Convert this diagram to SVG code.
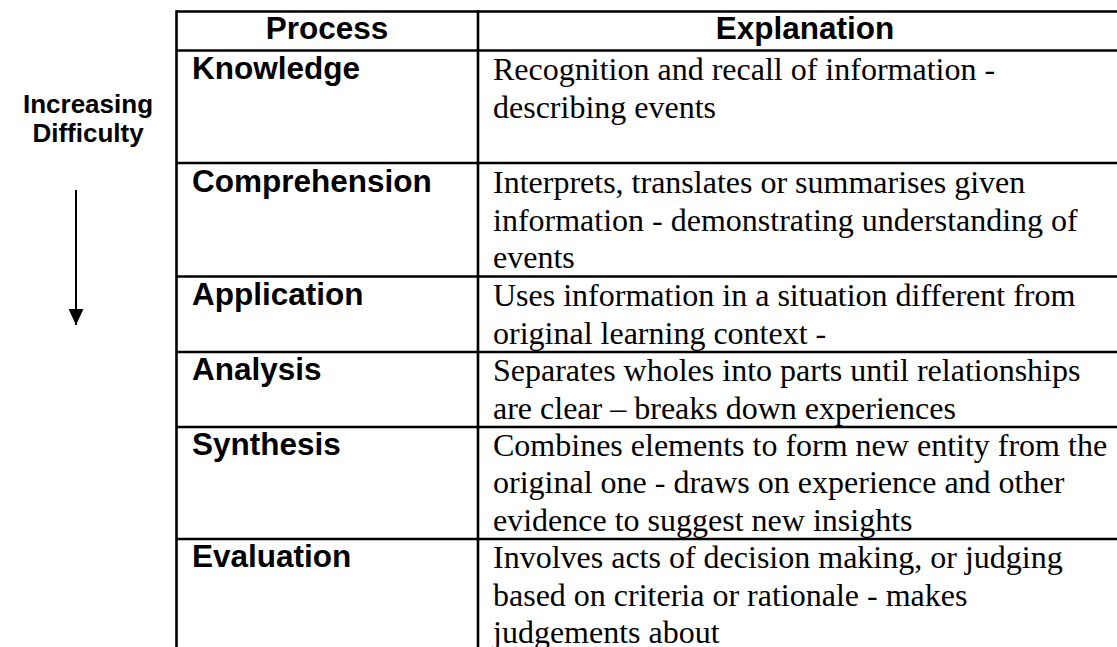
<svg xmlns="http://www.w3.org/2000/svg" width="1117" height="647" viewBox="0 0 1117 647">
  <style>
    .grid { stroke: #000; stroke-width: 2.6; fill: none; }
    .hd { font-family: "Liberation Sans", Arial, sans-serif; font-weight: bold; font-size: 31.5px; fill: #000; }
    .lbl { font-family: "Liberation Sans", Arial, sans-serif; font-weight: bold; font-size: 26px; fill: #000; text-anchor: middle; }
    .ex { font-family: "Liberation Serif", "Times New Roman", serif; font-size: 32px; fill: #000; }
  </style>
  <defs>
    <marker id="arrowhead" markerWidth="16" markerHeight="15" refX="16" refY="7.5" orient="auto" markerUnits="userSpaceOnUse" viewBox="0 0 16 15">
      <path d="M0,0 L16,7.5 L0,15 Z" fill="#000"/>
    </marker>
  </defs>
  <rect width="1117" height="647" fill="#fff"/>

  <g id="table-grid" class="grid">
    <line x1="176.5" y1="11.5" x2="1117" y2="11.5"/>
    <line x1="176.5" y1="50.5" x2="1117" y2="50.5"/>
    <line x1="176.5" y1="163" x2="1117" y2="163"/>
    <line x1="176.5" y1="276.5" x2="1117" y2="276.5"/>
    <line x1="176.5" y1="352" x2="1117" y2="352"/>
    <line x1="176.5" y1="427" x2="1117" y2="427"/>
    <line x1="176.5" y1="539" x2="1117" y2="539"/>
    <line x1="176.5" y1="10.2" x2="176.5" y2="647"/>
    <line x1="478" y1="10.2" x2="478" y2="647"/>
  </g>

  <g id="header">
    <text class="hd" x="327" y="39" text-anchor="middle">Process</text>
    <text class="hd" x="805" y="39" text-anchor="middle">Explanation</text>
  </g>

  <g id="label-increasing-difficulty">
    <text class="lbl" x="88" y="113">Increasing</text>
    <text class="lbl" x="88" y="142">Difficulty</text>
  </g>

  <g id="connectors">
    <line x1="76" y1="190" x2="76" y2="325" stroke="#000" stroke-width="2" marker-end="url(#arrowhead)"/>
  </g>

  <g id="row-knowledge">
    <text class="hd" x="192" y="79">Knowledge</text>
    <text class="ex" x="493" y="80">Recognition and recall of information -</text>
    <text class="ex" x="493" y="117.5">describing events</text>
  </g>

  <g id="row-comprehension">
    <text class="hd" x="192" y="192">Comprehension</text>
    <text class="ex" x="493" y="193">Interprets, translates or summarises given</text>
    <text class="ex" x="493" y="230.5">information - demonstrating understanding of</text>
    <text class="ex" x="493" y="268">events</text>
  </g>

  <g id="row-application">
    <text class="hd" x="192" y="305">Application</text>
    <text class="ex" x="493" y="306">Uses information in a situation different from</text>
    <text class="ex" x="493" y="343.5">original learning context -</text>
  </g>

  <g id="row-analysis">
    <text class="hd" x="192" y="380">Analysis</text>
    <text class="ex" x="493" y="381">Separates wholes into parts until relationships</text>
    <text class="ex" x="493" y="418.5">are clear – breaks down experiences</text>
  </g>

  <g id="row-synthesis">
    <text class="hd" x="192" y="455">Synthesis</text>
    <text class="ex" x="493" y="456">Combines elements to form new entity from the</text>
    <text class="ex" x="493" y="493">original one - draws on experience and other</text>
    <text class="ex" x="493" y="530.5">evidence to suggest new insights</text>
  </g>

  <g id="row-evaluation">
    <text class="hd" x="192" y="567">Evaluation</text>
    <text class="ex" x="493" y="568">Involves acts of decision making, or judging</text>
    <text class="ex" x="493" y="605.5">based on criteria or rationale - makes</text>
    <text class="ex" x="493" y="643">judgements about</text>
  </g>
</svg>
